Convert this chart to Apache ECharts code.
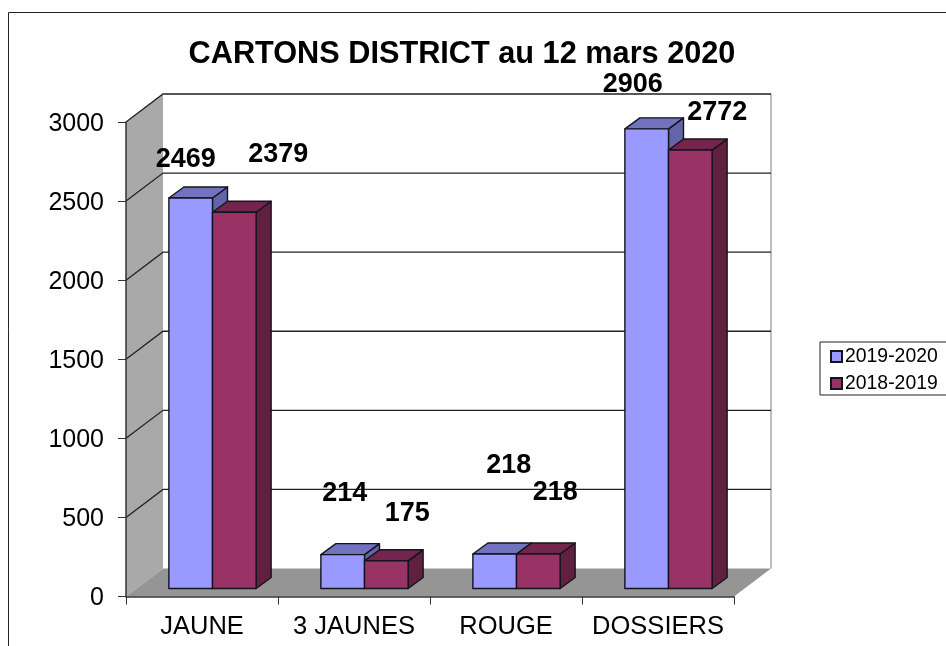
<!DOCTYPE html>
<html>
<head>
<meta charset="utf-8">
<title>CARTONS DISTRICT</title>
<script src="https://cdn.jsdelivr.net/npm/echarts@6/dist/echarts.min.js"></script>
<style>
html,body{margin:0;padding:0;background:#fff;}
#chart{width:946px;height:646px;}
</style>
</head>
<body>
<div id="chart"></div>
<script>
//données
var categories = ["JAUNE", "3 JAUNES", "ROUGE", "DOSSIERS"];
var values2020 = [2469, 214, 218, 2906];
var values2019 = [2379, 175, 218, 2772];
var seriesNames = ["2019-2020", "2018-2019"];
var yTicks = [0, 500, 1000, 1500, 2000, 2500, 3000];

//décalage des étiquettes déplacées à la main (par rapport au haut de la barre)
var labelShift = [
	[[-5, -38], [2, -61], [14, -88], [-14, -44]],
	[[44, -58], [21, -47], [17, -61], [27, -38]]
];

//effet 3D
var wallDx = 37, wallDy = -28;   //profondeur des murs
var floorDx = 10.5, floorDy = -8; //position des barres sur le sol
var barDx = 15, barDy = -11;     //profondeur des barres
var barRatio = 0.287;

var wallGrey = "#a9a9a9", floorGrey = "#959595", gridColor = "#222";

function wallItem(params, api) {
	var cs = params.coordSys;
	var x0 = cs.x, x1 = cs.x + cs.width;
	var yBase = api.coord([0, 0])[1], yTop = api.coord([0, 3000])[1];
	var children = [{
		type: "polygon",
		shape: {points: [[x0, yTop], [x0 + wallDx, yTop + wallDy], [x0 + wallDx, yBase + wallDy], [x0, yBase]]},
		style: {fill: wallGrey}
	}, {
		type: "polygon",
		shape: {points: [[x0, yBase], [x0 + wallDx, yBase + wallDy], [x1 + wallDx, yBase + wallDy], [x1, yBase]]},
		style: {fill: floorGrey}
	}, {
		type: "line",
		shape: {x1: x1 + wallDx, y1: yTop + wallDy, x2: x1 + wallDx, y2: yBase + wallDy},
		style: {stroke: "#a8a8a8", lineWidth: 1.5}
	}];
	yTicks.forEach(function(t) {
		if(t === 0) return;
		var y = api.coord([0, t])[1];
		children.push({
			type: "polyline",
			shape: {points: [[x0, y], [x0 + wallDx, y + wallDy], [x1 + wallDx, y + wallDy]]},
			style: {stroke: gridColor, lineWidth: 1.3, fill: null}
		});
	});
	return {type: "group", children: children};
}

function barItem(serie, front, top, side) {
	return function(params, api) {
		var cat = api.value(0), val = api.value(1);
		var band = api.size([1, 0])[0];
		var w = band * barRatio;
		var base = api.coord([cat, 0]), head = api.coord([cat, val]);
		var x = base[0] + floorDx + (serie - 1) * w;
		var yb = base[1] + floorDy, yt = head[1] + floorDy;
		var stroke = {stroke: "#14141e", lineWidth: 1.4, lineJoin: "round"};
		var shift = labelShift[serie][params.dataIndex];
		return {type: "group", children: [{
			type: "polygon",
			shape: {points: [[x + w, yt], [x + w + barDx, yt + barDy], [x + w + barDx, yb + barDy], [x + w, yb]]},
			style: Object.assign({fill: side}, stroke)
		}, {
			type: "polygon",
			shape: {points: [[x, yt], [x + barDx, yt + barDy], [x + w + barDx, yt + barDy], [x + w, yt]]},
			style: Object.assign({fill: top}, stroke)
		}, {
			type: "rect",
			shape: {x: x, y: yt, width: w, height: yb - yt},
			style: Object.assign({fill: front}, stroke)
		}, {
			type: "text",
			z2: 100,
			x: x + w / 2 + shift[0],
			y: yt + shift[1],
			style: {
				text: String(val), fill: "#000", align: "center", verticalAlign: "middle",
				font: "bold 27px 'Liberation Sans', Arial, sans-serif"
			}
		}]};
	};
}

function toData(list) {
	return list.map(function(v, i) { return [i, v]; });
}

var chart = echarts.init(document.getElementById("chart"));
chart.setOption({
	animation: false,
	backgroundColor: "#fff",
	textStyle: {fontFamily: "'Liberation Sans', Arial, sans-serif", color: "#000"},
	title: {
		text: "CARTONS DISTRICT au 12 mars 2020",
		left: 457, top: 34, textAlign: "center",
		textStyle: {fontSize: 30.7, fontWeight: "bold", color: "#000", fontFamily: "'Liberation Sans', Arial, sans-serif"}
	},
	graphic: [{ //cadre
		type: "rect", silent: true,
		shape: {x: 8.5, y: 12.5, width: 1000, height: 700},
		style: {fill: null, stroke: "#222", lineWidth: 1}
	}],
	legend: {
		data: seriesNames,
		orient: "vertical",
		left: 820, top: 342,
		padding: [5, 14, 2, 10],
		itemWidth: 11, itemHeight: 11, itemGap: 8,
		icon: "rect",
		borderColor: "#222", borderWidth: 1,
		textStyle: {fontSize: 19.4, color: "#000", padding: [0, 0, 0, -2]}
	},
	grid: {left: 126, top: 122, width: 608, height: 474.5},
	xAxis: {
		type: "category", data: categories, z: 5,
		axisLine: {lineStyle: {color: "#333", width: 1.5}},
		axisTick: {show: true, length: 8, lineStyle: {color: "#333"}},
		axisLabel: {fontSize: 25.5, color: "#000", margin: 17, interval: 0}
	},
	yAxis: {
		type: "value", min: 0, max: 3000, interval: 500, z: 5,
		axisLine: {show: true, lineStyle: {color: "#333", width: 1.5}},
		axisTick: {show: true, length: 8, lineStyle: {color: "#333"}},
		splitLine: {show: false},
		axisLabel: {
			fontSize: 25, color: "#000", margin: 22, verticalAlign: "top", lineHeight: 4,
			formatter: function(v) { return String(v); }
		}
	},
	series: [{
		type: "custom", name: "murs", z: 1, silent: true,
		renderItem: wallItem, data: [[0, 0]],
		encode: {x: 0, y: 1}
	}, {
		type: "custom", name: seriesNames[0], z: 2,
		itemStyle: {color: "#9999ff", borderColor: "#14141e", borderWidth: 1},
		renderItem: barItem(0, "#9999ff", "#7272bf", "#6464a8"),
		data: toData(values2020), encode: {x: 0, y: 1}
	}, {
		type: "custom", name: seriesNames[1], z: 3,
		itemStyle: {color: "#993366", borderColor: "#14141e", borderWidth: 1},
		renderItem: barItem(1, "#993366", "#73264d", "#602040"),
		data: toData(values2019), encode: {x: 0, y: 1}
	}]
});
</script>
</body>
</html>
